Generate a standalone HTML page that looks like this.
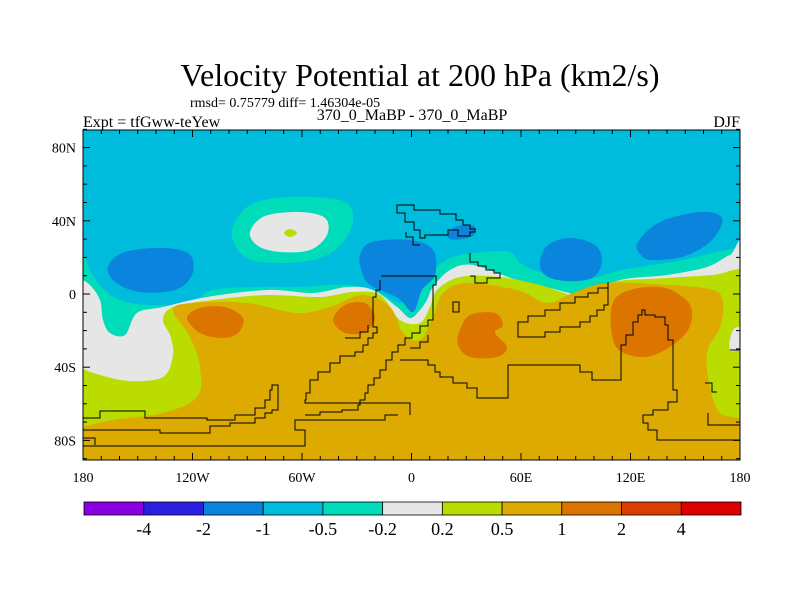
<!DOCTYPE html>
<html><head><meta charset="utf-8"><style>
html,body{margin:0;padding:0;background:#fff;}
svg{display:block;}
text{font-family:"Liberation Serif","DejaVu Serif",serif;fill:#000;}
</style></head><body>
<svg id="chart" width="800" height="600" viewBox="0 0 800 600" xmlns="http://www.w3.org/2000/svg">
<rect width="800" height="600" fill="#fff"/>
<text x="420" y="86" font-size="32" text-anchor="middle">Velocity Potential at 200 hPa (km2/s)</text>
<text x="190" y="107" font-size="14">rmsd= 0.75779 diff= 1.46304e-05</text>
<text x="83" y="127" font-size="16">Expt = tfGww-teYew</text>
<text x="412" y="120" font-size="16" text-anchor="middle">370_0_MaBP - 370_0_MaBP</text>
<text x="740" y="127" font-size="16" text-anchor="end">DJF</text>
<defs><clipPath id="pc"><rect x="83" y="130" width="657" height="330"/></clipPath></defs>
<g id="map" clip-path="url(#pc)"></g>
<g id="coast" clip-path="url(#pc)" fill="none" stroke="#000" stroke-width="1"></g>
<rect x="83" y="130" width="657" height="330" fill="none" stroke="#000" stroke-width="1"/>
<g id="axes"></g>
<g id="cbar"></g>
</svg>
<script>
const levelColors=["#8a00e0","#2a1ee0","#0a84dc","#00bcdc","#00dcba","#e6e6e6","#badc00","#dcaa00","#dc7400","#dc3c00","#dc0000"];
const levelLabels=["-4","-2","-1","-0.5","-0.2","0.2","0.5","1","2","4"];
const lonTicks=[-180,-120,-60,0,60,120,180];
const lonLabels=["180","120W","60W","0","60E","120E","180"];
const latTicks=[80,40,0,-40,-80];
const latLabels=["80N","40N","0","40S","80S"];

const NS="http://www.w3.org/2000/svg";
const X0=83,X1=740,Y0=130,Y1=460;
function lonToX(l){return X0+(l+180)/360*(X1-X0);}
function latToY(l){return 294-l*1.83;}
function mk(tag,attrs,parent){const e=document.createElementNS(NS,tag);for(const k in attrs)e.setAttribute(k,attrs[k]);parent.appendChild(e);return e;}
function smooth(pts,closed){
  let d="M"+pts[0][0]+","+pts[0][1];
  const n=pts.length;
  for(let i=0;i<(closed?n:n-1);i++){
    const p0=pts[(i-1+n)%n],p1=pts[i],p2=pts[(i+1)%n],p3=pts[(i+2)%n];
    const a=closed||i>0?p0:p1, b=closed||i<n-2?p3:p2;
    const c1=[p1[0]+(p2[0]-a[0])/6,p1[1]+(p2[1]-a[1])/6];
    const c2=[p2[0]-(b[0]-p1[0])/6,p2[1]-(b[1]-p1[1])/6];
    d+=" C"+c1[0].toFixed(1)+","+c1[1].toFixed(1)+" "+c2[0].toFixed(1)+","+c2[1].toFixed(1)+" "+p2[0]+","+p2[1];
  }
  return d+(closed?" Z":"");
}
function band(pts){
  return smooth(pts,false)+" L745,465 L78,465 Z";
}
const map=document.getElementById('map');
mk('rect',{x:X0,y:Y0,width:X1-X0,height:Y1-Y0,fill:levelColors[3]},map);
let e=mk('path',{d:band([[78,236],[88,265],[100,285],[120,300],[150,305],[190,303],[213,290],[260,287],[300,287],[347,285],[380,293],[400,303],[420,290],[433,270],[453,257],[483,252],[510,252],[520,263],[540,272],[580,280],[613,272],[640,267],[683,260],[717,252],[745,246]]),fill:levelColors[4]},map);

e=mk('path',{d:smooth([[232,232],[250,205],[290,197],[340,200],[353,215],[345,240],[320,258],[280,263],[245,257]],true),fill:levelColors[4]},map);

e=mk('path',{d:smooth([[250,232],[265,216],[300,212],[325,218],[327,235],[310,250],[280,252],[258,246]],true),fill:levelColors[5]},map);

e=mk('path',{d:smooth([[284,233],[290,229],[297,233],[290,237]],true),fill:levelColors[6]},map);

e=mk('path',{d:smooth([[78,277],[90,285],[100,300],[103,320],[110,333],[125,335],[137,313],[163,307],[207,297],[267,290],[313,293],[347,287],[373,290],[397,307],[410,318],[420,310],[427,300],[433,287],[450,270],[473,265],[517,280],[550,288],[587,295],[620,280],[667,275],[707,267],[730,255],[745,254],[745,465],[78,465]],false)+" Z",fill:levelColors[5]},map);

e=mk('path',{d:smooth([[78,367],[100,375],[130,381],[163,377],[173,355],[170,335],[163,320],[173,307],[213,300],[267,295],[320,297],[353,292],[380,295],[400,320],[420,323],[430,307],[437,290],[460,277],[500,277],[540,285],[583,297],[613,282],[667,278],[713,275],[745,272],[745,320],[733,330],[730,350],[745,362],[745,465],[78,465]],false)+" Z",fill:levelColors[6]},map);

e=mk('path',{d:smooth([[78,428],[113,420],[163,413],[197,397],[200,367],[190,337],[173,310],[193,303],[247,303],[297,313],[330,307],[363,295],[390,307],[403,333],[420,340],[433,317],[443,293],[467,283],[517,290],[547,303],[573,293],[607,283],[667,285],[713,290],[723,303],[720,327],[707,353],[710,387],[720,413],[745,423],[745,465],[78,465]],false)+" Z",fill:levelColors[7]},map);

const dark=[
 [[187,318],[200,308],[225,307],[243,318],[238,333],[222,338],[200,333]],
 [[333,320],[345,305],[365,303],[375,318],[365,332],[345,333]],
 [[460,330],[470,315],[495,313],[503,325],[495,333],[507,347],[497,357],[470,357],[458,345]],
 [[612,305],[630,290],[665,288],[690,305],[688,330],[665,350],[640,357],[615,345]]];
dark.forEach((p,i)=>{const el=mk('path',{d:smooth(p,true),fill:levelColors[8]},map);
});
const blue=[
 [[108,266],[125,252],[165,248],[190,255],[192,275],[175,290],[140,292],[115,282]],
 [[360,255],[372,242],[410,240],[433,250],[435,275],[422,290],[413,312],[398,298],[370,285],[362,272]],
 [[448,233],[458,226],[474,226],[474,235],[462,239],[450,239]],
 [[540,262],[548,245],[570,238],[595,245],[602,262],[592,278],[565,281],[545,275]],
 [[638,242],[660,222],[700,212],[722,218],[712,240],[685,256],[652,260],[640,254]]];
blue.forEach((p,i)=>{const el=mk('path',{d:smooth(p,true),fill:levelColors[2]},map);
});

const coast=document.getElementById('coast');
const coastLines=[
 "M397,205 H414 V210 H440 V214 H456 V220 H463 V225 H470 V229 H475 V232 H470 V236 H458 V230 H448 V235 H425 V238 H420 V230 H414 V222 H405 V213 H397 Z",
 "M406,232 V237 H413 V245 H420",
 "M470,253 V262 H478 V266 H486 V270 H494 V273 H500 V278 H487 V283 H475 V276 H470",
 "M381,276 H436 V285 H433 V320 H428 V326 H420 V333 H412 V338 H405 V345 H398 V352 H392 V360 H386 V370 H380 V378 H374 V385 H368 V393 H365 V400 H360 V405 H358 V410 H342 V412 H320 V415 H305",
 "M380,280 V290 H376 V297 H373 V327 H377 V333 H373 V338 H368 V345 H363 V352 H355 V356 H340 V363 H330 V372 H318 V380 H310 V393 H306 V400 H305 V403 H410 V415",
 "M345,338 H360 V332 H368 V325",
 "M453,302 H459 V312 H453 Z",
 "M410,348 H420 V342 H428 V335",
 "M518,330 V322 H528 V316 H545 V310 H560 V303 H575 V297 H588 V293 H598 V288 H608 V282 V305 H604 V310 H597 V316 H590 V322 H580 V327 H560 V332 H545 V337 H518 Z",
 "M400,360 H428 V365 H435 V372 H440 V377 H453 V383 H467 V388 H477 V398 H508 V365 H580 V372 H592 V380 H621 V345 H626 V335 H633 V322 H638 V315 H642 V310 H645 V315 H655 V317 H665 V325 H668 V340 H673 V390 H677 V402 H668 V410 H653 V415 H643 V423 H648 V430 H657 V440 H740",
 "M83,418 H100 V411 H145 V418 H207 V420 H235 V415 H255 V408 H265 V400 H270 V390 H272 V385 H278 V410 H272 V413 H265 V418 H255 V423 H230 V426 H210 V433 H160 V430 H83",
 "M83,446 H305 V430 H295 V420 H385 V415 H398",
 "M730,350 H740",
 "M705,383 H712 V392 H717",
 "M708,413 V425 H740",
 "M83,438 H95 V445"];
coastLines.forEach((d,i)=>{const el=mk('path',{d:d},coast);
});

const ax=document.getElementById('axes');
for(let l=-180;l<=180;l+=10){
  const x=lonToX(l), major=lonTicks.includes(l);
  const len=major?7:4;
  mk('line',{x1:x,y1:Y1,x2:x,y2:Y1-len,stroke:'#000','stroke-width':1},ax);
  mk('line',{x1:x,y1:Y0,x2:x,y2:Y0+len,stroke:'#000','stroke-width':1},ax);
}
for(let l=-90;l<=90;l+=10){
  const y=latToY(l), major=latTicks.includes(l);
  const len=major?7:4;
  mk('line',{x1:X0,y1:y,x2:X0+len,y2:y,stroke:'#000','stroke-width':1},ax);
  mk('line',{x1:X1,y1:y,x2:X1-len,y2:y,stroke:'#000','stroke-width':1},ax);
}
lonTicks.forEach((l,i)=>{const t=mk('text',{x:lonToX(l),y:482,'font-size':14,'text-anchor':'middle'},ax);t.textContent=lonLabels[i];

});
latTicks.forEach((l,i)=>{const t=mk('text',{x:76,y:latToY(l)+5,'font-size':14,'text-anchor':'end'},ax);t.textContent=latLabels[i];

});

const cb=document.getElementById('cbar');
const CB0=84,CB1=741,n=levelColors.length,w=(CB1-CB0)/n;
levelColors.forEach((c,i)=>{const r=mk('rect',{x:CB0+i*w,y:502,width:w,height:13,fill:c,stroke:'#000','stroke-width':0.8},cb);

});
levelLabels.forEach((s,i)=>{const t=mk('text',{x:CB0+(i+1)*w,y:535,'font-size':18,'text-anchor':'middle'},cb);t.textContent=s;

});
</script>
</body></html>
